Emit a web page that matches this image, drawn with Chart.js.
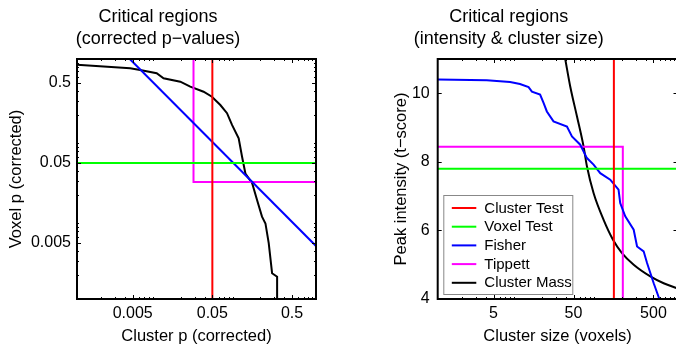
<!DOCTYPE html>
<html><head><meta charset="utf-8">
<script src="https://cdn.jsdelivr.net/npm/chart.js@4.4.1/dist/chart.umd.min.js"></script>
<style>
html,body{margin:0;padding:0;background:#fff;overflow:hidden;width:676px;height:347px;position:relative;}
#c1{position:absolute;left:0;top:0;}
#c2{position:absolute;left:340px;top:0;}
</style></head><body>
<canvas id="c1" width="340" height="347"></canvas>
<canvas id="c2" width="360" height="347"></canvas>
<script>
// ---------- LEFT PANEL DATA (corrected p-values) ----------
const leftXTicks = [0.005, 0.05, 0.5];
const leftYTicks = [0.005, 0.05, 0.5];
const leftClusterTestX = [0.05, 0.05];
const leftClusterTestY = [0.001, 1];
const leftVoxelTestX = [0.001, 1];
const leftVoxelTestY = [0.05, 0.05];
const leftFisherX = [0.0046, 1];
const leftFisherY = [1, 0.0046];
const leftTippettX = [0.029, 0.029, 1];
const leftTippettY = [1, 0.029, 0.029];
const leftMassX = [0.001, 0.00465, 0.0062, 0.010, 0.0122, 0.0198, 0.0264, 0.0388, 0.0494, 0.063, 0.0764, 0.0883, 0.107, 0.118, 0.130, 0.158, 0.182, 0.210, 0.232, 0.255, 0.281, 0.325, 0.325];
const leftMassY = [0.85, 0.765, 0.729, 0.663, 0.574, 0.52, 0.451, 0.39, 0.338, 0.266, 0.21, 0.15, 0.102, 0.060, 0.037, 0.028, 0.0173, 0.0107, 0.0088, 0.0050, 0.0021, 0.0019, 0.001];

// ---------- RIGHT PANEL DATA (intensity & cluster size) ----------
const rightXTicks = [5, 50, 500];
const rightYTicks = [4, 6, 8, 10];
const rightClusterTestX = [160, 160];
const rightClusterTestY = [4, 11];
const rightVoxelTestX = [1, 1000];
const rightVoxelTestY = [7.8, 7.8];
const rightFisherX = [1, 4.11, 8.05, 10.7, 13.7, 15.1, 19.1, 21.1, 23.2, 28.1, 41.4, 47.8, 60.7, 73.6, 89.1, 108, 144, 183, 192, 222, 283, 312, 377, 416, 504, 593, 1000];
const rightFisherY = [10.40, 10.38, 10.33, 10.27, 10.18, 10.05, 9.96, 9.72, 9.47, 9.18, 9.03, 8.74, 8.50, 8.11, 7.92, 7.67, 7.48, 7.19, 6.80, 6.41, 6.02, 5.53, 5.39, 5.05, 4.46, 4.0, 4.0];
const rightTippettX = [1, 207, 207];
const rightTippettY = [8.44, 8.44, 4];
const rightMassX = [39.4, 45.5, 55.2, 66.8, 73.6, 89.1, 119, 156, 202, 283, 457, 671, 1000];
const rightMassY = [11.0, 10.2, 9.33, 8.45, 7.87, 7.09, 6.31, 5.73, 5.34, 5.0, 4.66, 4.46, 4.31];

const seriesLabels = ['Cluster Test', 'Voxel Test', 'Fisher', 'Tippett', 'Cluster Mass'];
const seriesColors = ['#ff0000', '#00ff00', '#0000ff', '#ff00ff', '#000000'];

Chart.defaults.font.family = "'Liberation Sans', Arial, Helvetica, sans-serif";
Chart.defaults.color = '#000';

const pts = (xs, ys) => xs.map((x, i) => ({x: x, y: ys[i]}));
function makeDatasets(list) {
  return list.map((p, i) => ({
    label: seriesLabels[i],
    data: pts(p[0], p[1]),
    showLine: true,
    borderColor: seriesColors[i],
    backgroundColor: seriesColors[i],
    borderWidth: 2,
    pointRadius: 0,
    pointHoverRadius: 0,
    fill: false,
    tension: 0,
    cubicInterpolationMode: p[2] ? 'monotone' : 'default'
  }));
}

// frame + inner tick marks
const framePlugin = {
  id: 'frame',
  afterDatasetsDraw(chart) {
    const {ctx, chartArea: a, scales} = chart;
    ctx.save();
    ctx.strokeStyle = '#000';
    const seg = (x1, y1, x2, y2) => { ctx.beginPath(); ctx.moveTo(x1, y1); ctx.lineTo(x2, y2); ctx.stroke(); };
    const minor = (s) => {
      const out = [];
      if (s.type !== 'logarithmic') return out;
      const d0 = Math.floor(Math.log10(s.min)), d1 = Math.ceil(Math.log10(s.max));
      for (let d = d0; d <= d1; d++) for (let k = 2; k <= 9; k++) {
        const v = k * Math.pow(10, d);
        if (v > s.min && v < s.max) out.push(v);
      }
      return out;
    };
    ctx.lineWidth = 1;
    const xs = scales.x, ys = scales.y;
    xs.ticks.forEach(t => { const p = Math.round(xs.getPixelForValue(t.value)) + 0.5; seg(p, a.top, p, a.top + 4); seg(p, a.bottom, p, a.bottom - 4); });
    ys.ticks.forEach(t => { const p = Math.round(ys.getPixelForValue(t.value)) + 0.5; seg(a.left, p, a.left + 4, p); seg(a.right, p, a.right - 4, p); });
    minor(xs).forEach(v => { const p = Math.round(xs.getPixelForValue(v)) + 0.5; seg(p, a.top, p, a.top + 2); seg(p, a.bottom, p, a.bottom - 2); });
    minor(ys).forEach(v => { const p = Math.round(ys.getPixelForValue(v)) + 0.5; seg(a.left, p, a.left + 2, p); seg(a.right, p, a.right - 2, p); });
    ctx.lineWidth = 2;
    ctx.strokeRect(a.left, a.top, a.right - a.left, a.bottom - a.top);
    ctx.restore();
  }
};

// in-plot legend for the right panel
const boxLegend = {
  id: 'boxLegend',
  afterDraw(chart, args, opts) {
    if (!opts || !opts.show) return;
    const {ctx, chartArea: a} = chart;
    const bx = a.left + opts.dx, by = a.bottom - opts.dy - opts.h;
    ctx.save();
    ctx.fillStyle = '#fff';
    ctx.fillRect(bx, by, opts.w, opts.h);
    ctx.strokeStyle = '#888';
    ctx.lineWidth = 1;
    ctx.strokeRect(bx + 0.5, by + 0.5, opts.w, opts.h);
    ctx.font = "15px 'Liberation Sans', Arial, sans-serif";
    ctx.textBaseline = 'middle';
    ctx.textAlign = 'left';
    chart.data.datasets.forEach((ds, i) => {
      const y = by + opts.first + i * opts.row;
      ctx.strokeStyle = ds.borderColor;
      ctx.lineWidth = 2;
      ctx.beginPath(); ctx.moveTo(bx + 8.5, y); ctx.lineTo(bx + 33, y); ctx.stroke();
      ctx.fillStyle = '#000';
      ctx.fillText(ds.label, bx + 41, y + 0.5);
    });
    ctx.restore();
  }
};

function axisX(ticksArr, min, max, title, lblPad) {
  return {
    type: 'logarithmic', min: min, max: max, bounds: 'data', position: 'bottom',
    afterBuildTicks: s => { s.ticks = ticksArr.map(v => ({value: v})); },
    afterFit: s => { s.height = 48; },
    grid: {display: false, drawTicks: false},
    border: {display: false},
    ticks: {font: {size: 16}, color: '#000', padding: lblPad, maxRotation: 0, autoSkip: false, callback: v => String(v)},
    title: {display: true, text: title, font: {size: 16.5}, color: '#000', padding: {top: 0, bottom: 1}}
  };
}

function baseOptions(titleLines) {
  return {
    responsive: false,
    animation: false,
    events: [],
    plugins: {
      legend: {display: false},
      tooltip: {enabled: false},
      title: {display: true, text: titleLines, color: '#000', font: {size: 18, weight: 'normal', lineHeight: 22 / 18}, padding: {top: 6, bottom: 9}}
    }
  };
}

// ---------- LEFT CHART ----------
const opt1 = baseOptions(['Critical regions', '(corrected p\u2212values)']);
opt1.layout = {padding: {left: 0, right: 24, top: 0, bottom: 0}};
opt1.scales = {
  x: axisX(leftXTicks, 0.001, 1, 'Cluster p (corrected)', 5),
  y: {
    type: 'logarithmic', min: 0.001, max: 1, bounds: 'data', position: 'left',
    afterBuildTicks: s => { s.ticks = leftYTicks.map(v => ({value: v})); },
    afterFit: s => { s.width = 77; },
    grid: {display: false, drawTicks: false},
    border: {display: false},
    ticks: {font: {size: 16}, color: '#000', padding: 6, autoSkip: false, callback: v => String(v)},
    title: {display: true, text: 'Voxel p (corrected)', font: {size: 16.5}, color: '#000', padding: {top: 7, bottom: 0}}
  }
};
new Chart(document.getElementById('c1'), {
  type: 'scatter',
  data: {datasets: makeDatasets([
    [leftClusterTestX, leftClusterTestY],
    [leftVoxelTestX, leftVoxelTestY],
    [leftFisherX, leftFisherY],
    [leftTippettX, leftTippettY],
    [leftMassX, leftMassY]
  ])},
  options: opt1,
  plugins: [framePlugin]
});

// ---------- RIGHT CHART ----------
const opt2 = baseOptions(['Critical regions', '(intensity & cluster size)']);
opt2.layout = {padding: {left: 0, right: 22.5, top: 0, bottom: 0}};
opt2.plugins.boxLegend = {show: true, dx: 5.6, dy: 5, w: 129, h: 99, first: 13, row: 18.7};
opt2.scales = {
  x: axisX(rightXTicks, 1, 1000, 'Cluster size (voxels)', 5),
  y: {
    type: 'linear', min: 4, max: 11, bounds: 'data', position: 'left',
    afterBuildTicks: s => { s.ticks = rightYTicks.map(v => ({value: v})); },
    afterFit: s => { s.width = 97.7; },
    grid: {display: false, drawTicks: false},
    border: {display: false},
    ticks: {font: {size: 16}, color: '#000', padding: 8, autoSkip: false, callback: v => String(v)},
    title: {display: true, text: 'Peak intensity (t\u2212score)', font: {size: 16.5}, color: '#000', padding: {top: 51.8, bottom: 0}}
  }
};
new Chart(document.getElementById('c2'), {
  type: 'scatter',
  data: {datasets: makeDatasets([
    [rightClusterTestX, rightClusterTestY],
    [rightVoxelTestX, rightVoxelTestY],
    [rightFisherX, rightFisherY],
    [rightTippettX, rightTippettY],
    [rightMassX, rightMassY, true]
  ])},
  options: opt2,
  plugins: [framePlugin, boxLegend]
});
</script>
</body></html>
